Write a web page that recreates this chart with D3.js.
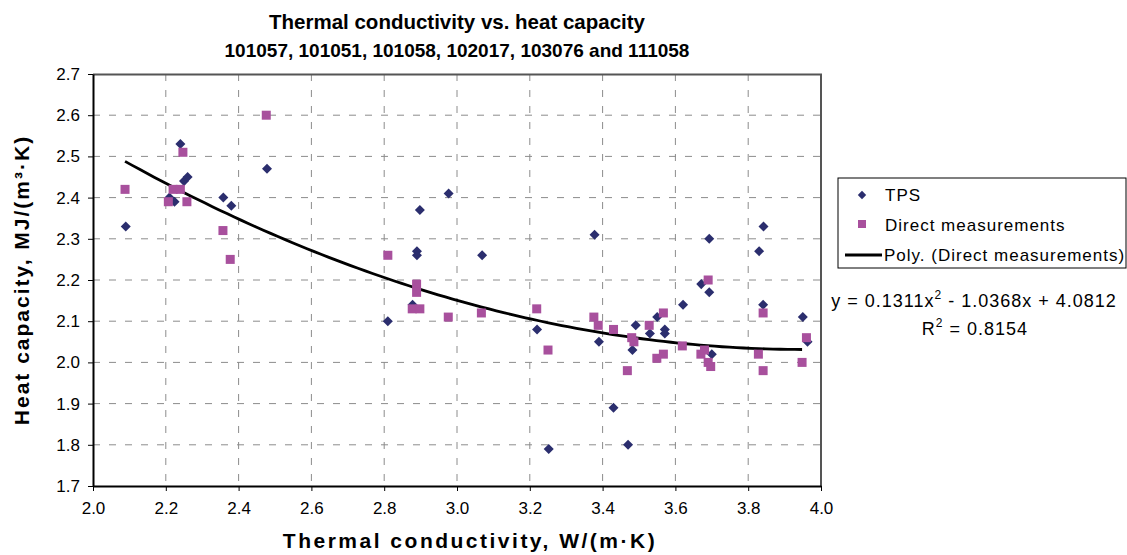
<!DOCTYPE html>
<html>
<head>
<meta charset="utf-8">
<script src="https://cdn.jsdelivr.net/npm/d3@7"></script>
<style>
  body { margin: 0; background: #fff; }
  svg { font-family: "Liberation Sans", Arial, sans-serif; }
</style>
</head>
<body>
<svg id="chart" width="1127" height="555"></svg>
<script>
// TPS points (thermal conductivity, heat capacity)
const tpsX = [2.09, 2.21, 2.224, 2.24, 2.25, 2.26, 2.358, 2.38, 2.478, 2.81, 2.878, 2.89, 2.89, 2.898, 2.977,
  3.069, 3.22, 3.252, 3.378, 3.39, 3.43, 3.47, 3.482, 3.491, 3.53, 3.55, 3.571, 3.571, 3.621, 3.671,
  3.693, 3.693, 3.70, 3.83, 3.841, 3.842, 3.95, 3.963];
const tpsY = [2.33, 2.40, 2.39, 2.53, 2.44, 2.45, 2.40, 2.38, 2.47, 2.10, 2.14, 2.27, 2.26, 2.37, 2.41,
  2.26, 2.08, 1.79, 2.31, 2.05, 1.89, 1.80, 2.03, 2.09, 2.07, 2.11, 2.08, 2.07, 2.14, 2.19,
  2.30, 2.17, 2.02, 2.27, 2.14, 2.33, 2.11, 2.05];

// direct measurement points
const directX = [2.088, 2.207, 2.22, 2.24, 2.247, 2.258, 2.357, 2.377, 2.476, 2.81, 2.877, 2.889, 2.889, 2.898,
  2.976, 3.067, 3.219, 3.25, 3.376, 3.388, 3.43, 3.468, 3.48, 3.486, 3.528, 3.549, 3.567, 3.567,
  3.619, 3.67, 3.68, 3.69, 3.69, 3.697, 3.828, 3.841, 3.841, 3.948, 3.96];
const directY = [2.42, 2.39, 2.42, 2.42, 2.51, 2.39, 2.32, 2.25, 2.60, 2.26, 2.13, 2.19, 2.17, 2.13,
  2.11, 2.12, 2.13, 2.03, 2.11, 2.09, 2.08, 1.98, 2.06, 2.05, 2.09, 2.01, 2.12, 2.02,
  2.04, 2.02, 2.03, 2.20, 2.00, 1.99, 2.02, 2.12, 1.98, 2.00, 2.06];

// polynomial trendline of direct measurements: c2*x^2 + c1*x + c0
const polyCoef = [4.0812, -1.0368, 0.1311];

const xTicks = [2.0, 2.2, 2.4, 2.6, 2.8, 3.0, 3.2, 3.4, 3.6, 3.8, 4.0];
const yTicks = [1.7, 1.8, 1.9, 2.0, 2.1, 2.2, 2.3, 2.4, 2.5, 2.6, 2.7];

const blue = '#2b2e6e';
const pink = '#a8509d';

const margin = {left: 93, top: 74, right: 306, bottom: 69};
const width = 1127 - margin.left - margin.right;
const height = 555 - margin.top - margin.bottom;

const svg = d3.select('#chart');
const g = svg.append('g').attr('transform', `translate(${margin.left}, ${margin.top})`);

const x = d3.scaleLinear().domain([2.0, 4.0]).range([0, width]);
const y = d3.scaleLinear().domain([1.7, 2.7]).range([height, 0]);

// grid lines
g.append('g').selectAll('line')
  .data(xTicks.slice(1, -1))
  .join('line')
  .attr('x1', d => x(d)).attr('x2', d => x(d))
  .attr('y1', 0).attr('y2', height)
  .attr('stroke', '#8c8c8c').attr('stroke-width', 1)
  .attr('stroke-dasharray', '7,9');

g.append('g').selectAll('line')
  .data(yTicks.slice(1, -1))
  .join('line')
  .attr('x1', 0).attr('x2', width)
  .attr('y1', d => y(d)).attr('y2', d => y(d))
  .attr('stroke', '#8c8c8c').attr('stroke-width', 1)
  .attr('stroke-dasharray', '7,9');

// plot border top / right
g.append('path')
  .attr('d', `M0,0.5H${width}V${height}`)
  .attr('fill', 'none').attr('stroke', '#555').attr('stroke-width', 2);

// axes
const xAxis = g.append('g')
  .attr('transform', `translate(0, ${height})`)
  .call(d3.axisBottom(x).tickValues(xTicks).tickFormat(d3.format('.1f')).tickSizeInner(5).tickSizeOuter(0).tickPadding(11));
const yAxis = g.append('g')
  .call(d3.axisLeft(y).tickValues(yTicks).tickFormat(d3.format('.1f')).tickSizeInner(5).tickSizeOuter(0).tickPadding(8));

[xAxis, yAxis].forEach(a => {
  a.select('.domain').attr('stroke', '#000').attr('stroke-width', 2);
  a.selectAll('.tick line').attr('stroke', '#000');
  a.selectAll('.tick text')
    .style('font-family', '"Liberation Sans", Arial, sans-serif')
    .style('font-size', '17px').attr('fill', '#000');
});

// trendline
const lineX = d3.range(d3.min(directX), d3.max(directX) + 0.001, 0.02);
const poly = v => polyCoef[0] + polyCoef[1] * v + polyCoef[2] * v * v;
g.append('path')
  .datum(lineX)
  .attr('fill', 'none')
  .attr('stroke', '#000')
  .attr('stroke-width', 2.8)
  .attr('d', d3.line().x(d => x(d)).y(d => y(poly(d))));

// markers
const diamond = d3.symbol().type(d3.symbolDiamond2).size(64);
g.append('g').selectAll('path')
  .data(d3.range(tpsX.length))
  .join('path')
  .attr('d', diamond)
  .attr('transform', i => `translate(${x(tpsX[i])}, ${y(tpsY[i])})`)
  .attr('fill', blue);

g.append('g').selectAll('rect')
  .data(d3.range(directX.length))
  .join('rect')
  .attr('x', i => x(directX[i]) - 4.5)
  .attr('y', i => y(directY[i]) - 4.5)
  .attr('width', 9).attr('height', 9)
  .attr('fill', pink);

// titles
svg.append('text')
  .attr('x', 457).attr('y', 29)
  .attr('text-anchor', 'middle')
  .style('font-weight', 'bold').style('font-size', '20.5px')
  .text('Thermal conductivity vs. heat capacity');
svg.append('text')
  .attr('x', 457).attr('y', 57)
  .attr('text-anchor', 'middle')
  .style('font-weight', 'bold').style('font-size', '19px')
  .text('101057, 101051, 101058, 102017, 103076 and 111058');

svg.append('text')
  .attr('x', 470).attr('y', 548)
  .attr('text-anchor', 'middle')
  .style('font-weight', 'bold').style('font-size', '21px')
  .style('letter-spacing', '2.5px')
  .text('Thermal conductivity, W/(m·K)');

svg.append('text')
  .attr('transform', `translate(29, ${margin.top + height / 2}) rotate(-90)`)
  .attr('text-anchor', 'middle')
  .style('font-weight', 'bold').style('font-size', '21px')
  .style('letter-spacing', '2px')
  .text('Heat capacity, MJ/(m³·K)');

// legend
const legend = svg.append('g').attr('transform', 'translate(838, 178)');
legend.append('rect')
  .attr('x', 0).attr('y', 0).attr('width', 288).attr('height', 90)
  .attr('fill', '#fff').attr('stroke', '#000').attr('stroke-width', 1);

legend.append('path')
  .attr('d', d3.symbol().type(d3.symbolDiamond2).size(45))
  .attr('transform', 'translate(24, 17)')
  .attr('fill', blue);
legend.append('rect')
  .attr('x', 20).attr('y', 42).attr('width', 8).attr('height', 8)
  .attr('fill', pink);
legend.append('line')
  .attr('x1', 7).attr('x2', 44).attr('y1', 77).attr('y2', 77)
  .attr('stroke', '#000').attr('stroke-width', 2.8);

const legendLabels = ['TPS', 'Direct measurements', 'Poly. (Direct measurements)'];
legend.selectAll('text.lab')
  .data(legendLabels)
  .join('text')
  .attr('class', 'lab')
  .attr('x', (d, i) => i === 2 ? 46 : 47)
  .attr('y', (d, i) => 23 + i * 30)
  .style('font-size', '17px')
  .style('letter-spacing', '1px')
  .text(d => d);

// equation
const eq = svg.append('text')
  .attr('x', 974).attr('y', 307)
  .attr('text-anchor', 'middle')
  .style('font-size', '18px')
  .style('letter-spacing', '1px');
eq.append('tspan').text('y = 0.1311x');
eq.append('tspan').attr('dy', -8).style('font-size', '12px').text('2');
eq.append('tspan').attr('dy', 8).text(' - 1.0368x + 4.0812');

const r2 = svg.append('text')
  .attr('x', 975).attr('y', 335)
  .attr('text-anchor', 'middle')
  .style('font-size', '18px')
  .style('letter-spacing', '1px');
r2.append('tspan').text('R');
r2.append('tspan').attr('dy', -8).style('font-size', '12px').text('2');
r2.append('tspan').attr('dy', 8).text(' = 0.8154');
</script>
</body>
</html>
